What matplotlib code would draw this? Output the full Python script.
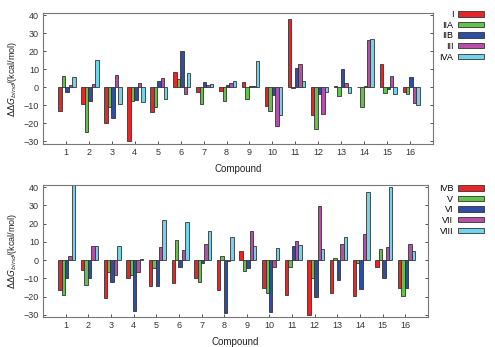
import numpy as np
import matplotlib; matplotlib.use("Agg")
import matplotlib.pyplot as plt

plt.rcParams['font.family'] = ['Liberation Sans', 'DejaVu Sans']

compounds = list(range(1, 17))
# top panel
top_names = ['I', 'IIA', 'IIB', 'III', 'IVA']
I_ = [-13.3, -9.6, -19.8, -30.0, -13.7, 8.5, -2.6, -2.4, 3.1, -10.6, 37.6, -15.6, 0.5, 0.3, 12.6, -2.8]
IIA = [6.0, -24.8, -11.0, -7.8, -11.3, 4.8, -9.6, -7.6, -6.7, -13.1, -0.3, -23.0, -5.0, -11.0, -3.3, -3.9]
IIB = [-2.8, -7.6, -17.0, -6.9, 3.5, 20.0, 2.8, 1.1, 0.5, -4.4, 10.7, -3.9, 10.0, 0.5, -1.1, 5.7]
III = [1.0, 1.5, 6.7, 2.2, 5.2, -3.9, 1.3, 2.2, 0.5, -21.5, 13.1, -15.0, 2.4, 26.0, 6.3, -8.7]
IVA = [5.7, 15.0, -9.4, -8.0, -6.7, 8.1, 1.8, 3.3, 14.4, -15.7, 3.5, -2.8, -3.5, 26.7, -4.0, -9.8]
# bottom panel
bot_names = ['IVB', 'V', 'VI', 'VII', 'VIII']
IVB = [-16.6, -5.3, -20.7, -9.7, -13.9, -12.4, -9.9, -16.3, 4.9, -15.2, -19.0, -30.0, -17.7, -19.7, -4.0, -15.0]
V_ = [-19.0, -13.5, -6.4, -8.2, -4.4, 10.8, -12.2, 2.4, -5.7, -17.9, -4.0, -9.9, 1.3, -1.5, 6.2, -19.4]
VI = [-9.9, -9.9, -12.0, -27.8, -14.4, -3.7, -1.8, -28.7, -4.2, -28.5, 7.5, -19.9, -11.0, -15.9, -10.0, -15.0]
VII = [2.2, 7.5, -7.9, -6.6, 7.1, 5.7, 9.0, -0.2, 15.7, -3.8, 10.4, 29.8, 9.1, 14.3, 7.3, 8.8]
VIII = [41.0, 7.5, 7.5, 0.7, 22.1, 21.0, 15.9, 12.8, 7.9, 6.6, 8.2, 5.9, 12.6, 37.3, 40.0, 5.1]

colors = ['#e8262a', '#62c24a', '#2e4ea6', '#b64fa8', '#72d4ea']

fig = plt.figure(figsize=(4.95, 3.47), dpi=100)
ax1 = fig.add_axes([43/495, 1-144/347, 390/495, 131/347])
ax2 = fig.add_axes([43/495, 1-317/347, 385/495, 132/347])

def panel(ax, series, names, ylim, legy):
    x = np.array(compounds)
    w = 0.15
    for i, (vals, nm) in enumerate(zip(series, names)):
        ax.bar(x + (i-2)*w + 0.05, vals, w, color=colors[i], edgecolor='#333333', lw=0.6, label=nm)
    ax.set_xlim(0, 17); ax.set_ylim(*ylim)
    ax.set_xticks(compounds); ax.set_yticks(range(-30, 41, 10))
    ax.tick_params(direction='in', length=2.5, width=0.6, labelsize=6.5, colors='#333333',
                   right=True, pad=3)
    for s in ax.spines.values():
        s.set_color('#777777'); s.set_linewidth(0.8)
    ax.set_xlabel('Compound', fontsize=7, labelpad=5, color='#222222')
    ax.set_ylabel('$\\Delta\\Delta G_{bind}$/(kcal/mol)', fontsize=6.5, labelpad=3, color='#222222')
    ax.legend(loc='upper right', bbox_to_anchor=(484/495, legy), bbox_transform=fig.transFigure,
              frameon=False, markerfirst=False, fontsize=6.5, handlelength=2.9, handleheight=0.55,
              labelspacing=0.18, handletextpad=0.5, borderpad=0, borderaxespad=0)

panel(ax1, [I_, IIA, IIB, III, IVA], top_names, (-31.6, 41.2), 1-10/347)
panel(ax2, [IVB, V_, VI, VII, VIII], bot_names, (-31.1, 41.1), 1-184/347)

fig.savefig('out.png', dpi=100)
